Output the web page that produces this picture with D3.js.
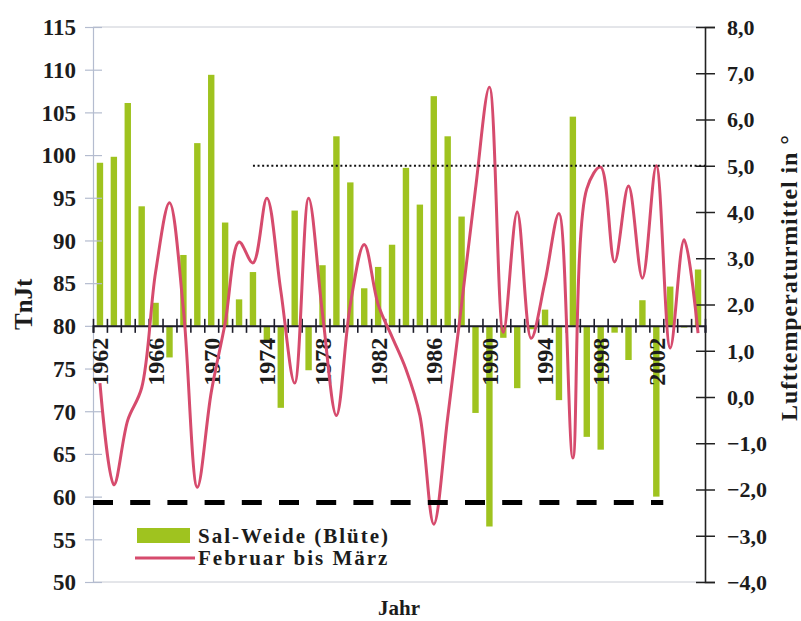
<!DOCTYPE html>
<html><head><meta charset="utf-8">
<script src="https://cdn.jsdelivr.net/npm/d3@7"></script>
<style>
html,body{margin:0;padding:0;background:#fff;}
svg{display:block;}
text{font-family:"Liberation Serif","Times New Roman",serif;font-weight:bold;fill:#1c1c1c;}
</style>
</head><body>
<svg id="chart" width="801" height="621"></svg>
<script>
// ---- data ----
const years = [1962,1963,1964,1965,1966,1967,1968,1969,1970,1971,1972,1973,1974,1975,1976,1977,1978,1979,1980,1981,1982,1983,1984,1985,1986,1987,1988,1989,1990,1991,1992,1993,1994,1995,1996,1997,1998,1999,2000,2001,2002,2003,2004,2005];
const salWeide = [99.1,99.8,106.1,94.0,82.7,76.3,88.3,101.4,109.4,92.1,83.1,86.3,78.2,70.4,93.5,74.8,87.1,102.2,96.8,84.4,86.9,89.5,98.5,94.2,106.9,102.2,92.8,69.8,56.5,78.6,72.7,79.6,81.9,71.3,104.5,67.0,65.5,79.2,76.0,83.0,60.0,84.6,79.8,86.6];
const febMaerz = [0.3,-1.9,-0.5,0.2,2.7,4.2,1.9,-1.95,0.1,1.6,3.35,2.9,4.3,2.3,0.3,4.3,1.8,-0.4,2.0,3.3,2.0,1.3,0.6,-0.4,-2.75,-0.45,2.0,4.5,6.7,1.4,4.0,1.27,2.5,3.97,-1.32,4.5,4.97,2.92,4.56,2.57,5.0,1.06,3.4,1.38];
const leftTicks = [50,55,60,65,70,75,80,85,90,95,100,105,110,115];
const rightTicks = [-4,-3,-2,-1,0,1,2,3,4,5,6,7,8];
const yearLabels = [1962,1966,1970,1974,1978,1982,1986,1990,1994,1998,2002];
const baseValue = 80;
const dottedLevel = 5.0, dottedFrom = 1973;     // right axis
const dashedLevel = 59.3, dashedTo = 2002;      // left axis
const seriesNames = ["Sal-Weide (Blüte)", "Februar bis März"];
const leftTitle = "TnJt", rightTitle = "Lufttemperaturmittel in °C", xTitle = "Jahr";

// ---- layout ----
const L = 93, R = 705, T = 27, B = 582;
const green = "#9fc31f", red = "#d64b6d";
const svg = d3.select("#chart");

const x = d3.scaleBand().domain(years).range([L, R]).padding(0);
const xEdge = d3.scaleLinear().domain([years[0], years[years.length-1] + 1]).range([L, R]);
const yL = d3.scaleLinear().domain([50, 115]).range([B, T]);
const yR = d3.scaleLinear().domain([-4, 8]).range([B, T]);
const step = x.step();

// frame lines top / bottom
svg.append("g").selectAll("line").data([115, 50]).join("line")
  .attr("x1", L).attr("x2", R).attr("y1", d => yL(d)).attr("y2", d => yL(d))
  .attr("stroke", "#c9ccd4").attr("stroke-width", 1);

// bars
svg.append("g").selectAll("rect").data(years).join("rect")
  .attr("x", (d) => x(d) + step * 0.27)
  .attr("width", step * 0.46)
  .attr("y", (d, i) => yL(Math.max(salWeide[i], baseValue)))
  .attr("height", (d, i) => Math.abs(yL(salWeide[i]) - yL(baseValue)))
  .attr("fill", green);

// left axis
const gL = svg.append("g").attr("transform", `translate(${L},0)`)
  .call(d3.axisLeft(yL).tickValues(leftTicks).tickSizeOuter(0).tickSize(8));
gL.select(".domain").attr("stroke", "#b4bccf").attr("stroke-width", 1.2);
gL.selectAll(".tick line").attr("x1", 9).attr("x2", -8).attr("stroke", "#b4bccf").attr("stroke-width", 1.2);
gL.selectAll(".tick text").attr("x", -17).attr("font-size", 23).attr("dy", "0.34em")
  .attr("font-family", "Liberation Serif").attr("font-weight", "bold").attr("fill", "#1c1c1c");

// right axis
const fmt = d => d3.format(".1f")(d).replace(".", ",");
const gR = svg.append("g").attr("transform", `translate(${R},0)`)
  .call(d3.axisRight(yR).tickValues(rightTicks).tickFormat(fmt).tickSizeOuter(0).tickSize(10));
gR.select(".domain").attr("stroke", "#222").attr("stroke-width", 1.6);
gR.selectAll(".tick line").attr("x1", -9).attr("x2", 10).attr("stroke", "#222").attr("stroke-width", 1.5);
gR.selectAll(".tick text").attr("x", 22).attr("font-size", 22).attr("dy", "0.34em")
  .attr("font-family", "Liberation Serif").attr("font-weight", "bold").attr("fill", "#1c1c1c");

// x axis at base value
const gX = svg.append("g").attr("transform", `translate(0,${yL(baseValue)})`)
  .call(d3.axisBottom(xEdge).tickValues(years.concat([years[years.length-1] + 1])).tickFormat("").tickSizeOuter(0).tickSize(7));
gX.select(".domain").attr("stroke", "#1d1d2a").attr("stroke-width", 2);
gX.selectAll(".tick line").attr("y1", -7).attr("y2", 7).attr("stroke", "#1d1d2a").attr("stroke-width", 1.6);

const gY = svg.append("g").attr("transform", `translate(0,${yL(baseValue)})`)
  .call(d3.axisBottom(x).tickValues(yearLabels).tickSize(0));
gY.select(".domain").remove();
gY.selectAll(".tick text").attr("transform", "rotate(-90)").attr("x", -12).attr("y", 0)
  .attr("dy", "0.35em").attr("text-anchor", "end").attr("font-size", 24)
  .attr("font-family", "Liberation Serif").attr("font-weight", "bold").attr("fill", "#1c1c1c");

// temperature line
const line = d3.line()
  .x((d, i) => x(years[i]) + step / 2)
  .y(d => yR(d))
  .curve(d3.curveCatmullRom.alpha(0.5));
svg.append("path").datum(febMaerz).attr("d", line)
  .attr("fill", "none").attr("stroke", red).attr("stroke-width", 3).attr("stroke-linejoin", "round");

// dotted reference line
svg.append("line")
  .attr("x1", x(dottedFrom) + step / 2).attr("x2", R)
  .attr("y1", yR(dottedLevel)).attr("y2", yR(dottedLevel))
  .attr("stroke", "#111").attr("stroke-width", 1.8).attr("stroke-dasharray", "2,2.6");

// dashed reference line
svg.append("line")
  .attr("x1", L).attr("x2", x(dashedTo) + step)
  .attr("y1", yL(dashedLevel)).attr("y2", yL(dashedLevel))
  .attr("stroke", "#000").attr("stroke-width", 5).attr("stroke-dasharray", "20,17.2");

// legend
const lg = svg.append("g");
lg.append("rect").attr("x", 137).attr("y", 528).attr("width", 53).attr("height", 15).attr("fill", green);
lg.append("line").attr("x1", 135).attr("x2", 195).attr("y1", 558).attr("y2", 558).attr("stroke", red).attr("stroke-width", 3);
lg.selectAll("text").data(seriesNames).join("text")
  .attr("x", 198).attr("y", (d, i) => 543 + i * 22)
  .attr("font-size", 21).attr("letter-spacing", 2).text(d => d);

// titles
svg.append("defs").append("clipPath").attr("id", "rclip")
  .append("rect").attr("x", 740).attr("y", 133).attr("width", 61).attr("height", 400);
svg.append("g").attr("clip-path", "url(#rclip)")
  .append("text")
  .attr("transform", "translate(797,421) rotate(-90)")
  .attr("font-size", 24).attr("letter-spacing", 0.9).text(rightTitle);
svg.append("text").attr("transform", "translate(32,330) rotate(-90)")
  .attr("font-size", 25).text(leftTitle);
svg.append("text").attr("x", 399).attr("y", 615).attr("text-anchor", "middle")
  .attr("font-size", 21).text(xTitle);
</script>
</body></html>
